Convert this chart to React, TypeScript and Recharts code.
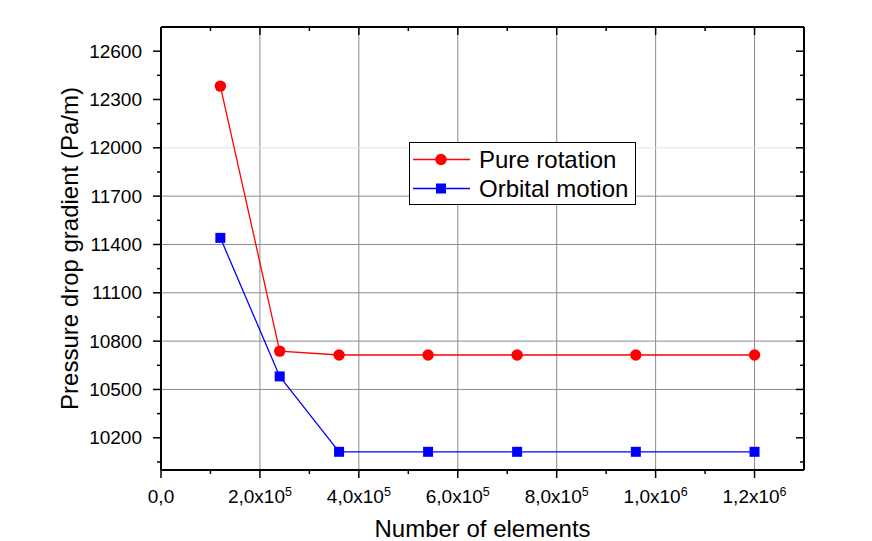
import React from "react"
import { Label, Legend, Line, LineChart, ReferenceLine, XAxis, YAxis } from "recharts"

// number of mesh elements
const elements = [120000, 240000, 360000, 540000, 720000, 960000, 1200000]
// pressure drop gradient (Pa/m)
const pureRotation = [12383, 10738, 10714, 10714, 10714, 10714, 10714]
const orbitalMotion = [11441, 10581, 10113, 10113, 10113, 10113, 10113]

const xMajor = [0, 200000, 400000, 600000, 800000, 1000000, 1200000]
const xMinor = [100000, 300000, 500000, 700000, 900000, 1100000]
const yMajor = [10200, 10500, 10800, 11100, 11400, 11700, 12000, 12300, 12600]
const yMinor = [10050, 10350, 10650, 10950, 11250, 11550, 11850, 12150, 12450]
const hGrid = [10500, 10800, 11100, 11400, 11700]
const hGridFaint = [12000]

const X_DOMAIN = [0, 1300000]
const Y_DOMAIN = [10000, 12750]
const seriesOrder = ["pure", "orbital"]

const FONT = "'Liberation Sans', Arial, sans-serif"

const data = elements.map((x, i) => ({ x, pure: pureRotation[i], orbital: orbitalMotion[i] }))
const xTicks = [...xMajor, ...xMinor].sort((a, b) => a - b)
const yTicks = [...yMajor, ...yMinor].sort((a, b) => a - b)

function sciLabel(v: number) {
  if (v === 0) return { base: "0,0", exp: "" }
  const exp = Math.floor(Math.log10(v) + 1e-9)
  const mant = (v / Math.pow(10, exp)).toFixed(1).replace(".", ",")
  return { base: `${mant}x10`, exp: String(exp) }
}

const BottomTick = (props: any) => {
  const { x, y, payload } = props
  const major = xMajor.includes(payload.value)
  const { base, exp } = sciLabel(payload.value)
  return (
    <g>
      <line x1={x} y1={y} x2={x} y2={y + (major ? 8 : 4)} stroke="#000" strokeWidth={1.5} />
      {major && (
        <text x={x} y={y + 33} textAnchor="middle" fontSize={19} fontFamily={FONT} fill="#000">
          {base}
          {exp && (
            <tspan dy={-7} fontSize={12.5}>
              {exp}
            </tspan>
          )}
        </text>
      )}
    </g>
  )
}

const TopTick = (props: any) => {
  const { x, y, payload } = props
  const major = xMajor.includes(payload.value)
  return <line x1={x} y1={y} x2={x} y2={y + (major ? 8 : 4)} stroke="#000" strokeWidth={1.5} />
}

const LeftTick = (props: any) => {
  const { x, y, payload } = props
  const major = yMajor.includes(payload.value)
  return (
    <g>
      <line x1={x} y1={y} x2={x - (major ? 8 : 4)} y2={y} stroke="#000" strokeWidth={1.5} />
      {major && (
        <text x={x - 19} y={y + 6.5} textAnchor="end" fontSize={19} fontFamily={FONT} fill="#000">
          {payload.value}
        </text>
      )}
    </g>
  )
}

const RightTick = (props: any) => {
  const { x, y, payload } = props
  const major = yMajor.includes(payload.value)
  return <line x1={x} y1={y} x2={x - (major ? 8 : 4)} y2={y} stroke="#000" strokeWidth={1.5} />
}

const SquareDot = (props: any) => {
  const { cx, cy, index } = props
  return <rect key={`sq-${index}`} x={cx - 5} y={cy - 5} width={10} height={10} fill="#0000ff" />
}

const renderLegend = ({ payload }: any) => {
  const items = [...(payload || [])].sort(
    (a: any, b: any) => seriesOrder.indexOf(a.dataKey) - seriesOrder.indexOf(b.dataKey)
  )
  return (
    <div
      style={{
        position: "relative",
        width: 227,
        height: 63,
        boxSizing: "border-box",
        border: "1px solid #000",
        background: "#fff",
        fontFamily: FONT,
      }}
    >
      {items.map((entry: any, i: number) => (
        <div
          key={entry.dataKey}
          style={{ position: "absolute", left: 3, top: 2 + i * 29, height: 29, display: "flex", alignItems: "center" }}
        >
          <svg width={58} height={29}>
            <line x1={0} y1={14.5} x2={57} y2={14.5} stroke={entry.color} strokeWidth={1.3} />
            {entry.dataKey === "pure" ? (
              <circle cx={28} cy={14.5} r={5.7} fill={entry.color} />
            ) : (
              <rect x={23} y={9.5} width={10} height={10} fill={entry.color} />
            )}
          </svg>
          <span style={{ marginLeft: 8, fontSize: 24, color: "#000", lineHeight: "29px", whiteSpace: "nowrap" }}>
            {entry.value}
          </span>
        </div>
      ))}
    </div>
  )
}

export default function App() {
  return (
    <div style={{ position: "absolute", left: 0, top: 0, width: 872, height: 541, background: "#fff" }}>
      <LineChart width={872} height={541} data={data} margin={{ top: 0, right: 0, bottom: 0, left: 0 }}>
        {xMajor
          .filter((v) => v > 0)
          .map((v) => (
            <ReferenceLine key={`vx-${v}`} x={v} stroke="#8c8c8c" strokeWidth={1} />
          ))}
        {hGrid.map((v) => (
          <ReferenceLine key={`hy-${v}`} y={v} stroke="#8c8c8c" strokeWidth={1} />
        ))}
        {hGridFaint.map((v) => (
          <ReferenceLine key={`hf-${v}`} y={v} stroke="#dce6e6" strokeWidth={1} />
        ))}
        <XAxis
          dataKey="x"
          type="number"
          domain={X_DOMAIN}
          ticks={xTicks}
          interval={0}
          height={71}
          tickSize={0}
          tickMargin={0}
          tickLine={false}
          tick={BottomTick}
          axisLine={{ stroke: "#000", strokeWidth: 2 }}
          allowDataOverflow
        >
          <Label
            content={({ viewBox }: any) => (
              <text
                x={viewBox.x + viewBox.width / 2}
                y={viewBox.y + 67}
                textAnchor="middle"
                fontSize={24}
                fontFamily={FONT}
                fill="#000"
              >
                Number of elements
              </text>
            )}
          />
        </XAxis>
        <XAxis
          xAxisId="top"
          orientation="top"
          dataKey="x"
          type="number"
          domain={X_DOMAIN}
          ticks={xTicks}
          interval={0}
          height={27}
          tickSize={0}
          tickMargin={0}
          tickLine={false}
          tick={TopTick}
          axisLine={{ stroke: "#000", strokeWidth: 2 }}
          allowDataOverflow
        />
        <YAxis
          type="number"
          domain={Y_DOMAIN}
          ticks={yTicks}
          interval={0}
          width={161}
          tickSize={0}
          tickMargin={0}
          tickLine={false}
          tick={LeftTick}
          axisLine={{ stroke: "#000", strokeWidth: 2 }}
          allowDataOverflow
        >
          <Label
            content={({ viewBox }: any) => {
              const cx = 78
              const cy = viewBox.y + viewBox.height / 2
              return (
                <text
                  x={cx}
                  y={cy}
                  transform={`rotate(-90, ${cx}, ${cy})`}
                  textAnchor="middle"
                  fontSize={24}
                  fontFamily={FONT}
                  fill="#000"
                >
                  Pressure drop gradient (Pa/m)
                </text>
              )
            }}
          />
        </YAxis>
        <YAxis
          yAxisId="right"
          orientation="right"
          type="number"
          domain={Y_DOMAIN}
          ticks={yTicks}
          interval={0}
          width={68}
          tickSize={0}
          tickMargin={0}
          tickLine={false}
          tick={RightTick}
          axisLine={{ stroke: "#000", strokeWidth: 2 }}
          allowDataOverflow
        />
        <Line
          dataKey="pure"
          name="Pure rotation"
          stroke="#ff0000"
          strokeWidth={1.3}
          dot={{ r: 5.7, fill: "#ff0000", stroke: "none" }}
          activeDot={false}
          isAnimationActive={false}
        />
        <Line
          dataKey="orbital"
          name="Orbital motion"
          stroke="#0000ff"
          strokeWidth={1.3}
          dot={SquareDot}
          activeDot={false}
          isAnimationActive={false}
        />
        <Legend
          layout="vertical"
          align="center"
          verticalAlign="middle"
          content={renderLegend}
          wrapperStyle={{ left: 409, top: 142, width: 227, height: 63 }}
        />
      </LineChart>
    </div>
  )
}
